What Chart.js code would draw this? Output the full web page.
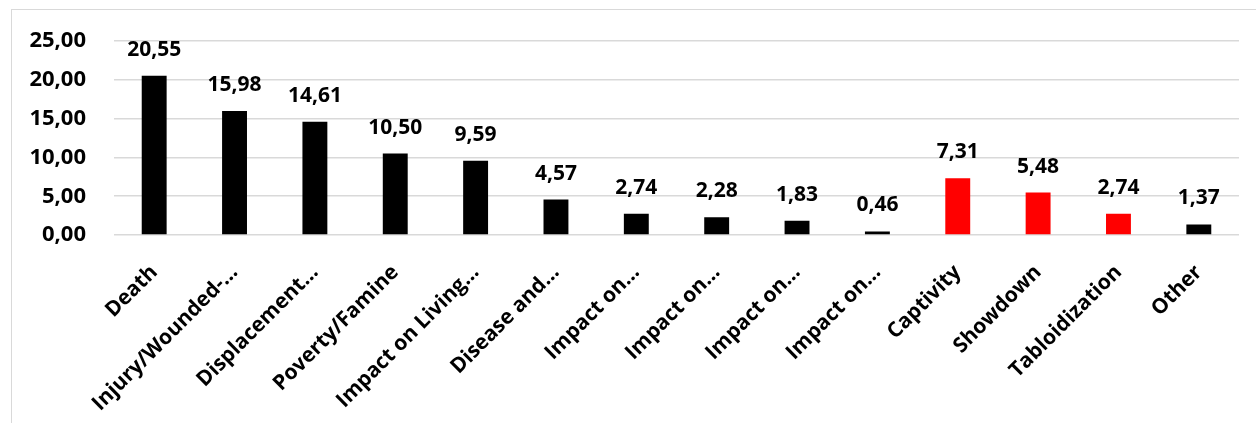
<!DOCTYPE html>
<html>
<head>
<meta charset="utf-8">
<script src="https://cdn.jsdelivr.net/npm/chart.js@4.4.1/dist/chart.umd.min.js"></script>
<style>
  html, body { margin: 0; padding: 0; background: #fff; }
  #frame { position: absolute; left: 11px; top: 9px; width: 1300px; height: 500px; border: 1px solid #d9d9d9; }
  #wrap { position: absolute; left: 0; top: 0; width: 1256px; height: 423px; }
</style>
</head>
<body>
<div id="frame"></div>
<div id="wrap"><canvas id="myChart"></canvas></div>
<script>
const categories = [
  'Death',
  'Injury/Wounded-…',
  'Displacement…',
  'Poverty/Famine',
  'Impact on Living…',
  'Disease and…',
  'Impact on…',
  'Impact on…',
  'Impact on…',
  'Impact on…',
  'Captivity',
  'Showdown',
  'Tabloidization',
  'Other',
];
const values = [20.55, 15.98, 14.61, 10.5, 9.59, 4.57, 2.74, 2.28, 1.83, 0.46, 7.31, 5.48, 2.74, 1.37];
const barColors = ['#000', '#000', '#000', '#000', '#000', '#000', '#000', '#000', '#000', '#000', '#ff0000', '#ff0000', '#ff0000', '#000'];

const fontFamily = '"Open Sans", sans-serif';

function fmt(v) {
  return v.toFixed(2).replace('.', ',');
}

// draws the value above each bar
const valueLabels = {
  id: 'valueLabels',
  afterDatasetsDraw(chart) {
    const ctx = chart.ctx;
    const meta = chart.getDatasetMeta(0);
    ctx.save();
    ctx.font = 'bold 21px ' + fontFamily;
    ctx.fillStyle = '#000';
    ctx.textAlign = 'center';
    ctx.textBaseline = 'alphabetic';
    meta.data.forEach((bar, i) => {
      ctx.fillText(fmt(values[i]), bar.x, bar.y - 20);
    });
    ctx.restore();
  },
};

const config = {
  type: 'bar',
  data: {
    labels: categories,
    datasets: [
      {
        data: values,
        backgroundColor: barColors,
        borderWidth: 0,
        barPercentage: 0.31,
        categoryPercentage: 1,
      },
    ],
  },
  options: {
    responsive: true,
    maintainAspectRatio: false,
    animation: false,
    layout: {
      padding: { left: 0, top: 38, right: 17, bottom: 0 },
    },
    plugins: {
      legend: { display: false },
      tooltip: { enabled: false },
    },
    scales: {
      x: {
        grid: { display: false, drawTicks: false },
        border: { display: false },
        ticks: {
          autoSkip: false,
          minRotation: 45,
          maxRotation: 45,
          padding: 25,
          color: '#000',
          font: { family: fontFamily, size: 21, weight: 'bold' },
        },
        afterFit(scale) {
          scale.height = 188;
        },
      },
      y: {
        min: 0,
        max: 25,
        grid: { color: '#d9d9d9', lineWidth: 1.5, drawTicks: false },
        border: { display: false },
        ticks: {
          stepSize: 5,
          padding: 28,
          color: '#000',
          font: { family: fontFamily, size: 22, weight: 'bold' },
          callback: (v) => fmt(v),
        },
        afterFit(scale) {
          scale.width = 114;
        },
      },
    },
  },
  plugins: [valueLabels],
};

const myChart = new Chart(document.getElementById('myChart'), config);
</script>
</body>
</html>
